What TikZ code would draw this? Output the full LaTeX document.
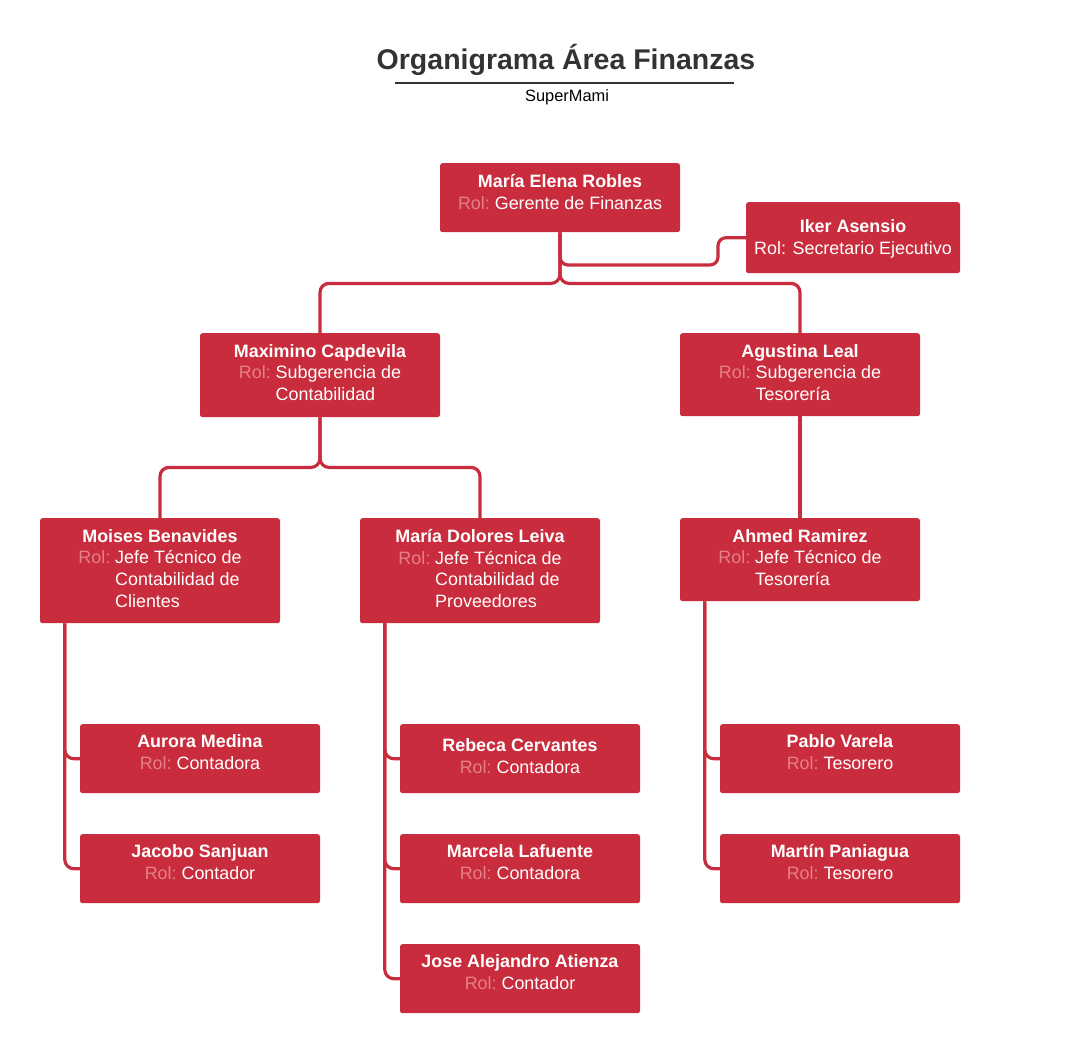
\documentclass[tikz,border=0pt]{standalone}
\usepackage{fontspec}
\setmainfont{Liberation Sans}
\usetikzlibrary{calc}
\definecolor{cardred}{HTML}{C92C3C}
\definecolor{rolc}{HTML}{E3808A}
\definecolor{titlec}{HTML}{333333}
\tikzset{
  cardbox/.style={fill=cardred, draw=none, rounded corners=2.5pt, inner sep=0pt},
  cardtext/.style={text=white, align=center, inner sep=0pt, font=\fontsize{17.9}{21.7}\selectfont},
  conn/.style={draw=cardred, line width=3.2pt, rounded corners=9pt},
}
\newcommand\rol{\textcolor{rolc}{Rol:}~}
\newcommand\hang[1]{\begin{tabular}[t]{@{}l@{}}#1\end{tabular}}
% name, x center, y top, width, height, gap, content
\newcommand\card[7]{%
  \node[cardbox, minimum width=#4, minimum height=#5, anchor=north] (#1) at (#2,#3) {};
  \node[cardtext, anchor=north] (#1t) at ([yshift=-#6]#1.north) {#7};}
\begin{document}
\begin{tikzpicture}[x=1pt,y=-1pt]
\useasboundingbox (0,0) rectangle (1067,1054);
% title
\node[text=titlec, font=\fontsize{28.5}{32}\selectfont\bfseries, inner sep=0pt] (title) at (566,60) {Organigrama Área Finanzas};
\coordinate (ul1) at (395,83);
\coordinate (ul2) at (734,83);
\draw[titlec, line width=2pt] (ul1) -- (ul2);
\node[text=black, font=\fontsize{16.4}{19}\selectfont, inner sep=0pt] (sub) at (567,97) {SuperMami};

% cards
\card{rob}{560}{163}{240}{69}{11}{\textbf{María Elena Robles}\\\rol Gerente de Finanzas}
\card{ike}{853}{202}{214}{71}{17.5}{\textbf{Iker Asensio}\\Rol: Secretario Ejecutivo}
\card{max}{320}{333}{240}{84}{11}{\textbf{Maximino Capdevila}\\\rol\hang{Subgerencia de\\Contabilidad}}
\card{agu}{800}{333}{240}{83}{11}{\textbf{Agustina Leal}\\\rol\hang{Subgerencia de\\Tesorería}}
\card{moi}{160}{518}{240}{105}{11}{\textbf{Moises Benavides}\\\rol\hang{Jefe Técnico de\\Contabilidad de\\Clientes}}
\card{mdl}{480}{518}{240}{105}{11}{\textbf{María Dolores Leiva}\\\rol\hang{Jefe Técnica de\\Contabilidad de\\Proveedores}}
\card{ahm}{800}{518}{240}{83}{11}{\textbf{Ahmed Ramirez}\\\rol\hang{Jefe Técnico de\\Tesorería}}
\card{aur}{200}{724}{240}{69}{10.5}{\textbf{Aurora Medina}\\\rol Contadora}
\card{jac}{200}{834}{240}{69}{10.5}{\textbf{Jacobo Sanjuan}\\\rol Contador}
\card{reb}{520}{724}{240}{69}{14.5}{\textbf{Rebeca Cervantes}\\\rol Contadora}
\card{mar}{520}{834}{240}{69}{10.5}{\textbf{Marcela Lafuente}\\\rol Contadora}
\card{jos}{520}{944}{240}{69}{10.5}{\textbf{Jose Alejandro Atienza}\\\rol Contador}
\card{pab}{840}{724}{240}{69}{10.5}{\textbf{Pablo Varela}\\\rol Tesorero}
\card{mtn}{840}{834}{240}{69}{10.5}{\textbf{Martín Paniagua}\\\rol Tesorero}

% connectors
\draw[conn] (rob.south) -- ++(0,51) -| (max.north);
\draw[conn] (rob.south) -- ++(0,51) -| (agu.north);
\coordinate (ikc) at (718,265);
\draw[conn, rounded corners=8pt] (rob.south) |- (ikc) |- (ike.west);
\draw[conn] (max.south) -- ++(0,50) -| (moi.north);
\draw[conn] (max.south) -- ++(0,50) -| (mdl.north);
\draw[conn] (agu.south) -- (ahm.north);
\draw[conn] ([xshift=25]moi.south west) |- (aur.west);
\draw[conn] ([xshift=25]moi.south west) |- (jac.west);
\draw[conn] ([xshift=25]mdl.south west) |- (reb.west);
\draw[conn] ([xshift=25]mdl.south west) |- (mar.west);
\draw[conn] ([xshift=25]mdl.south west) |- (jos.west);
\draw[conn] ([xshift=25]ahm.south west) |- (pab.west);
\draw[conn] ([xshift=25]ahm.south west) |- (mtn.west);
\end{tikzpicture}
\end{document}
